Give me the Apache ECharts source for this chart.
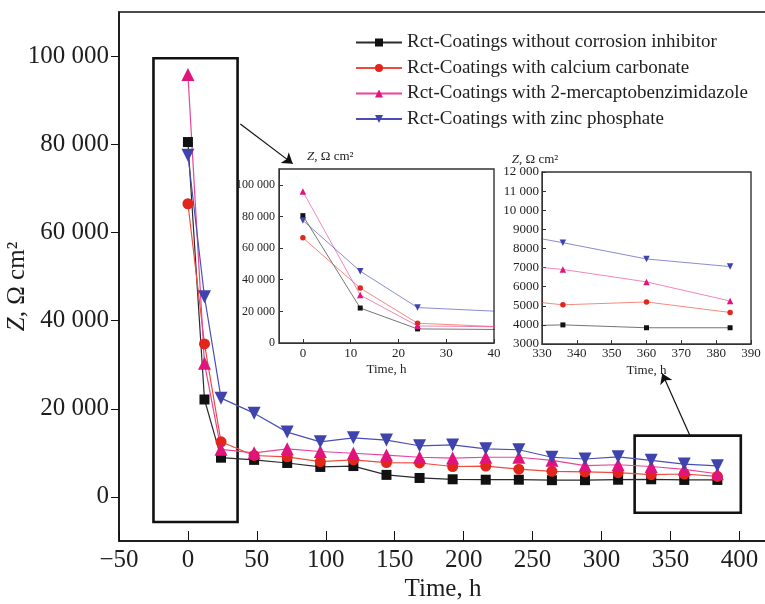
<!DOCTYPE html>
<html>
<head>
<meta charset="utf-8">
<script src="https://cdn.jsdelivr.net/npm/echarts@6/dist/echarts.min.js"></script>
<style>
  html, body { margin: 0; padding: 0; background: #fff; }
  #chart { width: 765px; height: 604px; }
</style>
</head>
<body>
<div id="chart"></div>
<script>
// exposure time, h
const hours = [0, 12, 24, 48, 72, 96, 120, 144, 168, 192, 216, 240, 264, 288, 312, 336, 360, 384]

// Rct values, Ohm cm2
const noInhibitor = [80500, 22100, 8900, 8400, 7700, 6800, 7000, 5000, 4300, 4000, 3900, 3900, 3800, 3800, 3900, 4000, 3850, 3850]
const calciumCarbonate = [66500, 34700, 12500, 9400, 9100, 8000, 8400, 7800, 7700, 6900, 7000, 6300, 5800, 5700, 5500, 5050, 5200, 4650]
const mercaptobenzimidazole = [95800, 30300, 10800, 10000, 10900, 10300, 9900, 9500, 9000, 8800, 9000, 9000, 8300, 7100, 7300, 6900, 6250, 5250]
const zincPhosphate = [77500, 45400, 22400, 19000, 14700, 12500, 13400, 12900, 11600, 11800, 10900, 10700, 9000, 8600, 9100, 8300, 7450, 7050]

const seriesNames = [
  'Rct-Coatings without corrosion inhibitor',
  'Rct-Coatings with calcium carbonate',
  'Rct-Coatings with 2-mercaptobenzimidazole',
  'Rct-Coatings with zinc phosphate',
]

// tick labels
const mainXTicks = [-50, 0, 50, 100, 150, 200, 250, 300, 350, 400]
const mainYTicks = [0, 20000, 40000, 60000, 80000, 100000]
const earlyXTicks = [0, 10, 20, 30, 40]
const earlyYTicks = [0, 20000, 40000, 60000, 80000, 100000]

const serif = 'Liberation Serif'
const ink = '#1e1e1e'

const looks = [
  { line: '#2b2b2b', mark: '#111111', symbol: 'rect', size: 10, rotate: 0 },
  { line: '#ee4b3f', mark: '#e2261c', symbol: 'circle', size: 11, rotate: 0 },
  { line: '#e8459a', mark: '#e0147c', symbol: 'triangle', size: 13, rotate: 0 },
  { line: '#4b4fb5', mark: '#3f43ad', symbol: 'triangle', size: 13, rotate: 180 },
]
const allValues = [noInhibitor, calciumCarbonate, mercaptobenzimidazole, zincPhosphate]

function fmt(v) {
  if (v < 10000) return String(v)
  const s = String(v)
  return s.slice(0, s.length - 3) + ' ' + s.slice(-3)
}

const zName = '{i|Z}, Ω cm²'

function buildSeries() {
  const out = []
  allValues.forEach((vals, k) => {
    const data = hours.map((h, i) => [h, vals[i]])
    const look = looks[k]
    const main = {
      name: seriesNames[k],
      type: 'line',
      xAxisIndex: 0,
      yAxisIndex: 0,
      data,
      symbol: look.symbol,
      symbolSize: look.size,
      symbolRotate: look.rotate,
      lineStyle: { color: look.line, width: 1.2 },
      itemStyle: { color: look.mark },
      z: 3,
    }
    if (k === 0) {
      main.markArea = {
        silent: true,
        itemStyle: { color: 'rgba(0,0,0,0)', borderColor: '#111', borderWidth: 2.6 },
        data: [
          [{ coord: [-25, 99500] }, { coord: [36, -5700] }],
          [{ coord: [324, 13900] }, { coord: [401, -3600] }],
        ],
      }
      main.markLine = {
        silent: true,
        symbol: ['none', 'arrow'],
        symbolSize: 10,
        lineStyle: { color: '#111', width: 1.2, type: 'solid' },
        label: { show: false },
        data: [
          [{ coord: [38, 84600] }, { coord: [76, 75600] }],
          [{ coord: [364, 14000] }, { coord: [344, 28000] }],
        ],
      }
    }
    out.push(main)
    for (const g of [1, 2]) {
      out.push({
        name: seriesNames[k],
        type: 'line',
        xAxisIndex: g,
        yAxisIndex: g,
        data,
        symbol: look.symbol,
        symbolSize: look.size * 0.5,
        symbolRotate: look.rotate,
        lineStyle: { color: look.line, width: 1, opacity: 0.65 },
        itemStyle: { color: look.mark },
        z: 12,
      })
    }
  })
  return out
}

const smallAxis = {
  axisLine: { show: true, onZero: false, lineStyle: { color: '#333', width: 1 } },
  axisTick: { inside: true, length: 4, lineStyle: { color: '#333' } },
  splitLine: { show: false },
  nameMoveOverlap: false,
  z: 11,
}

const option = {
  backgroundColor: '#fff',
  animation: false,
  textStyle: { fontFamily: serif },
  legend: {
    orient: 'vertical',
    left: 350,
    top: 28,
    itemWidth: 46,
    itemHeight: 10,
    itemGap: 6.5,
    data: seriesNames,
    textStyle: { fontFamily: serif, fontSize: 19, color: ink },
  },
  grid: [
    { left: 119, top: 12, right: -2, height: 529, show: true, outerBoundsMode: 'none', borderColor: '#111', borderWidth: 1.5, backgroundColor: 'transparent' },
    { left: 279, top: 169, width: 215, height: 174, show: true, outerBoundsMode: 'none', z: 10, backgroundColor: '#fff', borderColor: '#333', borderWidth: 1.4 },
    { left: 542, top: 172, width: 209, height: 172, show: true, outerBoundsMode: 'none', z: 10, backgroundColor: '#fff', borderColor: '#333', borderWidth: 1.4 },
  ],
  xAxis: [
    {
      gridIndex: 0,
      type: 'value',
      min: -50,
      max: 420,
      name: 'Time, h',
      nameLocation: 'middle',
      nameGap: 36,
      nameMoveOverlap: false,
      nameTextStyle: { fontFamily: serif, fontSize: 25, color: ink },
      axisLine: { onZero: false, lineStyle: { color: '#111', width: 1.5 } },
      axisTick: { inside: true, length: 10, customValues: mainXTicks, lineStyle: { color: '#111' } },
      axisLabel: { customValues: mainXTicks, fontSize: 25, color: ink, margin: 7, formatter: (v) => (v < 0 ? '\u2212' + Math.abs(v) : String(v)) },
      splitLine: { show: false },
    },
    {
      gridIndex: 1,
      type: 'value',
      min: -5,
      max: 40,
      name: 'Time, h',
      nameLocation: 'middle',
      nameGap: 20,
      nameTextStyle: { fontFamily: serif, fontSize: 13, color: ink },
      ...smallAxis,
      axisTick: { ...smallAxis.axisTick, customValues: earlyXTicks },
      axisLabel: { customValues: earlyXTicks, fontSize: 13, color: ink, margin: 4 },
    },
    {
      gridIndex: 2,
      type: 'value',
      min: 330,
      max: 390,
      interval: 10,
      name: 'Time, h',
      nameLocation: 'middle',
      nameGap: 20,
      nameTextStyle: { fontFamily: serif, fontSize: 13, color: ink },
      ...smallAxis,
      axisLabel: { fontSize: 13, color: ink, margin: 3 },
    },
  ],
  yAxis: [
    {
      gridIndex: 0,
      type: 'value',
      min: -10000,
      max: 110000,
      name: zName,
      nameLocation: 'middle',
      nameGap: 89,
      nameMoveOverlap: false,
      nameTextStyle: {
        fontFamily: serif, fontSize: 25, color: ink, padding: [0, 20, 0, 0],
        rich: { i: { fontFamily: serif, fontSize: 25, fontStyle: 'italic', color: ink } },
      },
      axisLine: { onZero: false, lineStyle: { color: '#111', width: 1.5 } },
      axisTick: { inside: false, length: 8, customValues: mainYTicks, lineStyle: { color: '#111' } },
      axisLabel: { customValues: mainYTicks, fontSize: 25, color: ink, margin: 10, formatter: fmt },
      splitLine: { show: false },
    },
    {
      gridIndex: 1,
      type: 'value',
      min: 0,
      max: 110000,
      name: zName,
      nameLocation: 'end',
      nameGap: 6,
      nameTextStyle: {
        fontFamily: serif, fontSize: 13, color: ink, align: 'left', padding: [0, 0, 0, 28],
        rich: { i: { fontFamily: serif, fontSize: 13, fontStyle: 'italic', color: ink } },
      },
      ...smallAxis,
      axisTick: { ...smallAxis.axisTick, customValues: earlyYTicks },
      axisLabel: { customValues: earlyYTicks, fontSize: 12, color: ink, margin: 4, formatter: fmt },
    },
    {
      gridIndex: 2,
      type: 'value',
      min: 3000,
      max: 12000,
      interval: 1000,
      name: zName,
      nameLocation: 'end',
      nameGap: 6,
      nameTextStyle: {
        fontFamily: serif, fontSize: 13, color: ink, padding: [0, 14, 0, 0],
        rich: { i: { fontFamily: serif, fontSize: 13, fontStyle: 'italic', color: ink } },
      },
      ...smallAxis,
      axisLabel: { fontSize: 13, color: ink, margin: 3, formatter: fmt },
    },
  ],
  series: buildSeries(),
}

const chart = echarts.init(document.getElementById('chart'))
chart.setOption(option)
</script>
</body>
</html>
